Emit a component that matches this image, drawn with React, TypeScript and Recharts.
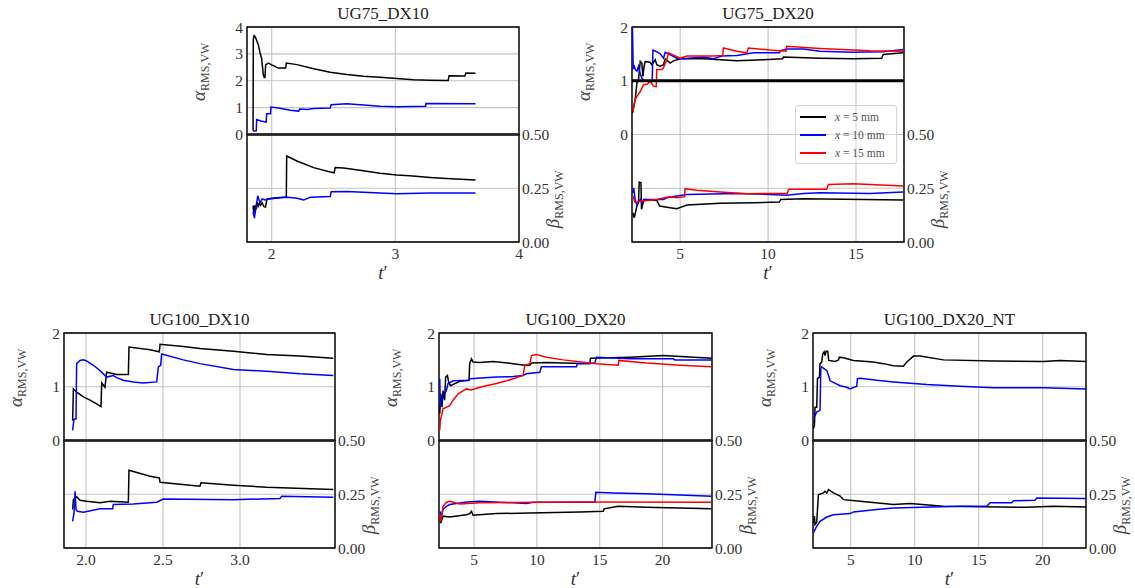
import React from "react";
import {
  CartesianGrid,
  Line,
  LineChart,
  ReferenceArea,
  ReferenceLine,
  XAxis,
  YAxis,
} from "recharts";

type Pair = [number, number];

const FONT = '"Liberation Serif", "Times New Roman", serif';
const COLORS = ["#000000", "#0000ff", "#ff0000"];
const POSITIONS_MM = [5, 10, 15];
const BETA_TICKS = [0, 0.25, 0.5];

// UG75_DX10
const ug75dx10AlphaX5: Pair[] = [[1.849,0.15],[1.851,3.55],[1.858,3.68],[1.868,3.62],[1.882,3.45],[1.892,3.33],[1.905,3.05],[1.918,2.84],[1.932,2.22],[1.94,2.12],[1.945,2.12],[1.951,2.59],[1.972,2.66],[2.0,2.59],[2.054,2.47],[2.113,2.47],[2.118,2.66],[2.204,2.6],[2.339,2.45],[2.473,2.32],[2.608,2.23],[2.742,2.17],[2.876,2.13],[3.011,2.08],[3.145,2.04],[3.28,2.02],[3.427,2.01],[3.435,2.19],[3.562,2.18],[3.57,2.29],[3.648,2.28]];
const ug75dx10AlphaX10: Pair[] = [[1.848,0.12],[1.875,0.14],[1.878,0.56],[1.913,0.5],[1.955,0.46],[1.959,0.77],[1.99,0.77],[1.994,1.02],[2.054,0.99],[2.15,0.9],[2.218,0.87],[2.226,0.95],[2.285,0.93],[2.339,0.97],[2.473,0.99],[2.481,1.11],[2.608,1.14],[2.742,1.1],[2.876,1.05],[3.011,1.03],[3.245,1.05],[3.247,1.15],[3.648,1.14]];
const ug75dx10BetaX5: Pair[] = [[1.849,0.169],[1.855,0.13],[1.862,0.17],[1.87,0.15],[1.882,0.185],[1.89,0.165],[1.9,0.18],[1.909,0.17],[1.922,0.182],[1.935,0.166],[1.949,0.162],[1.962,0.2],[2.016,0.205],[2.118,0.209],[2.121,0.4],[2.204,0.377],[2.339,0.346],[2.473,0.326],[2.505,0.322],[2.513,0.346],[2.581,0.344],[2.742,0.331],[2.876,0.32],[3.011,0.312],[3.118,0.308],[3.28,0.3],[3.414,0.295],[3.648,0.288]];
const ug75dx10BetaX10: Pair[] = [[1.849,0.138],[1.86,0.111],[1.872,0.16],[1.887,0.215],[1.9,0.19],[1.909,0.185],[1.922,0.2],[1.949,0.195],[1.976,0.2],[2.07,0.206],[2.124,0.208],[2.204,0.203],[2.258,0.195],[2.312,0.208],[2.473,0.212],[2.481,0.234],[2.608,0.235],[2.876,0.228],[3.011,0.225],[3.28,0.228],[3.648,0.228]];

// UG75_DX20
const ug75dx20AlphaX5: Pair[] = [[2.29,0.4],[2.44,0.65],[2.54,0.96],[2.63,1.02],[2.73,1.36],[2.82,1.33],[2.88,1.08],[2.95,1.27],[3.01,1.36],[3.3,1.34],[3.39,1.3],[3.58,1.39],[3.67,1.3],[3.86,1.27],[4.05,1.3],[4.15,1.41],[4.43,1.33],[4.62,1.37],[5.0,1.41],[6.33,1.41],[7.27,1.39],[8.22,1.37],[9.73,1.39],[10.83,1.41],[10.87,1.44],[12.95,1.42],[14.85,1.41],[16.46,1.42],[16.55,1.49],[17.69,1.52]];
const ug75dx20AlphaX10: Pair[] = [[2.28,2.05],[2.33,1.24],[2.39,1.27],[2.44,1.21],[2.54,1.18],[2.63,1.27],[2.73,1.13],[2.82,1.05],[2.92,1.0],[3.41,1.0],[3.45,1.57],[3.67,1.54],[3.86,1.5],[4.05,1.42],[4.15,1.53],[4.34,1.5],[4.81,1.42],[5.09,1.41],[6.33,1.44],[6.89,1.41],[7.37,1.46],[8.22,1.47],[9.17,1.52],[10.64,1.52],[10.72,1.56],[11.06,1.59],[12.01,1.59],[12.95,1.55],[14.85,1.53],[16.55,1.54],[17.69,1.58]];
const ug75dx20AlphaX15: Pair[] = [[2.31,0.43],[2.44,0.65],[2.54,0.71],[2.73,0.8],[2.92,0.93],[3.11,0.93],[3.3,0.99],[3.48,0.9],[3.64,0.89],[3.67,1.21],[3.96,1.21],[4.05,1.24],[4.24,1.39],[4.34,1.52],[4.53,1.49],[5.0,1.42],[5.38,1.46],[6.89,1.46],[7.42,1.47],[7.46,1.61],[8.22,1.55],[8.79,1.52],[8.88,1.61],[10.11,1.57],[11.02,1.55],[11.06,1.64],[12.95,1.6],[15.8,1.56],[17.69,1.55]];
const ug75dx20BetaX5: Pair[] = [[2.31,0.136],[2.39,0.113],[2.54,0.167],[2.63,0.183],[2.67,0.279],[2.77,0.276],[2.8,0.152],[2.92,0.19],[3.01,0.198],[3.67,0.193],[3.83,0.167],[4.43,0.159],[4.81,0.155],[5.38,0.172],[7.27,0.18],[9.17,0.183],[10.64,0.186],[10.72,0.198],[12.01,0.201],[17.69,0.195]];
const ug75dx20BetaX10: Pair[] = [[2.29,0.229],[2.35,0.252],[2.44,0.198],[2.54,0.175],[2.73,0.198],[2.82,0.18],[2.92,0.198],[4.05,0.198],[4.24,0.206],[4.81,0.214],[5.38,0.221],[8.22,0.226],[10.11,0.221],[11.06,0.217],[12.01,0.226],[12.95,0.229],[15.8,0.226],[17.69,0.232]];
const ug75dx20BetaX15: Pair[] = [[2.31,0.214],[2.44,0.183],[2.73,0.19],[3.67,0.198],[4.43,0.211],[4.81,0.206],[5.25,0.211],[5.28,0.248],[5.95,0.241],[7.27,0.232],[8.79,0.224],[10.11,0.226],[11.1,0.226],[11.16,0.245],[13.33,0.245],[13.43,0.268],[14.85,0.271],[17.69,0.26]];

// UG100_DX10
const ug100dx10AlphaX5: Pair[] = [[1.913,0.37],[1.918,0.96],[1.939,0.9],[1.983,0.81],[2.026,0.75],[2.069,0.68],[2.097,0.63],[2.102,1.07],[2.123,0.99],[2.134,1.27],[2.199,1.23],[2.275,1.23],[2.279,1.74],[2.416,1.69],[2.476,1.65],[2.481,1.79],[2.632,1.75],[2.74,1.71],[2.957,1.66],[3.173,1.6],[3.39,1.57],[3.606,1.53]];
const ug100dx10AlphaX10: Pair[] = [[1.913,0.19],[1.922,0.4],[1.935,0.4],[1.939,1.43],[1.961,1.49],[1.983,1.5],[2.004,1.48],[2.048,1.4],[2.091,1.3],[2.134,1.18],[2.177,1.21],[2.199,1.17],[2.242,1.12],[2.307,1.09],[2.372,1.07],[2.459,1.09],[2.47,1.37],[2.485,1.4],[2.491,1.61],[2.632,1.5],[2.74,1.43],[2.957,1.32],[3.173,1.29],[3.39,1.24],[3.606,1.21]];
const ug100dx10BetaX5: Pair[] = [[1.913,0.179],[1.918,0.225],[1.939,0.238],[1.961,0.222],[2.004,0.217],[2.091,0.21],[2.156,0.217],[2.275,0.213],[2.279,0.362],[2.416,0.334],[2.476,0.326],[2.481,0.306],[2.74,0.287],[2.747,0.303],[2.957,0.292],[3.173,0.283],[3.606,0.272]];
const ug100dx10BetaX10: Pair[] = [[1.913,0.124],[1.922,0.163],[1.929,0.264],[1.935,0.179],[1.944,0.171],[1.983,0.166],[2.091,0.182],[2.173,0.182],[2.177,0.202],[2.307,0.205],[2.459,0.213],[2.502,0.228],[2.957,0.225],[3.26,0.23],[3.271,0.241],[3.606,0.236]];

// UG100_DX20
const ug100dx20AlphaX5: Pair[] = [[2.27,0.5],[2.35,0.87],[2.45,0.62],[2.53,0.93],[2.66,0.75],[2.74,1.18],[2.88,1.21],[2.98,1.09],[3.12,1.02],[3.86,1.1],[4.6,1.12],[4.65,1.43],[4.79,1.52],[4.92,1.46],[5.45,1.45],[6.51,1.47],[8.11,1.43],[9.04,1.4],[9.43,1.4],[9.57,1.44],[10.76,1.45],[14.21,1.43],[14.26,1.53],[17.4,1.55],[20.05,1.58],[23.9,1.53]];
const ug100dx20AlphaX10: Pair[] = [[2.27,1.15],[2.32,0.62],[2.53,0.81],[2.8,0.93],[2.93,1.06],[3.33,1.11],[4.6,1.12],[4.65,1.15],[6.78,1.18],[8.11,1.19],[8.9,1.21],[9.17,1.24],[10.23,1.27],[10.36,1.37],[13.15,1.37],[13.2,1.43],[14.61,1.44],[14.74,1.55],[17.4,1.52],[20.85,1.52],[20.98,1.5],[23.9,1.5]];
const ug100dx20AlphaX15: Pair[] = [[2.27,0.19],[2.32,0.37],[2.53,0.59],[3.06,0.65],[3.33,0.75],[3.73,0.87],[4.39,0.96],[4.79,0.94],[5.45,0.99],[5.98,1.02],[6.78,1.06],[7.58,1.11],[8.9,1.21],[9.04,1.4],[9.43,1.43],[9.57,1.58],[9.96,1.6],[10.76,1.55],[12.09,1.5],[14.74,1.43],[16.47,1.4],[16.52,1.49],[18.72,1.44],[21.38,1.4],[23.9,1.37]];
const ug100dx20BetaX5: Pair[] = [[2.27,0.148],[2.35,0.116],[2.53,0.148],[3.06,0.144],[4.39,0.155],[4.65,0.16],[4.79,0.171],[4.92,0.152],[6.78,0.16],[9.43,0.163],[13.42,0.168],[15.27,0.171],[15.35,0.182],[16.47,0.194],[18.72,0.189],[23.9,0.182]];
const ug100dx20BetaX10: Pair[] = [[2.27,0.171],[2.4,0.148],[2.53,0.179],[2.8,0.194],[3.06,0.202],[4.39,0.214],[5.45,0.217],[8.11,0.21],[9.17,0.207],[9.7,0.213],[14.61,0.213],[14.69,0.259],[16.07,0.256],[18.72,0.252],[23.9,0.241]];
const ug100dx20BetaX15: Pair[] = [[2.27,0.148],[2.35,0.124],[2.53,0.194],[2.8,0.213],[3.06,0.217],[3.86,0.205],[5.45,0.21],[13.42,0.214],[23.9,0.213]];

// UG100_DX20_NT
const ug100ntAlphaX5: Pair[] = [[2.08,0.22],[2.16,0.28],[2.21,0.62],[2.34,0.62],[2.4,1.15],[2.55,1.18],[2.6,1.43],[2.73,1.46],[2.81,1.61],[2.92,1.65],[2.99,1.58],[3.07,1.66],[3.2,1.66],[3.28,1.49],[3.78,1.47],[4.04,1.5],[4.11,1.55],[4.43,1.54],[5.21,1.49],[6.77,1.46],[7.55,1.43],[8.33,1.39],[9.11,1.38],[9.38,1.46],[9.9,1.57],[10.42,1.57],[12.24,1.5],[16.15,1.48],[20.05,1.47],[21.35,1.49],[23.38,1.47]];
const ug100ntAlphaX10: Pair[] = [[2.14,0.43],[2.34,0.53],[2.6,0.56],[2.66,1.34],[2.73,1.37],[3.13,1.3],[3.26,1.21],[3.39,1.11],[4.17,1.02],[4.69,0.99],[4.95,0.96],[5.47,1.01],[5.52,1.15],[5.73,1.16],[7.03,1.12],[8.33,1.09],[10.94,1.04],[13.54,1.01],[16.15,0.98],[20.05,0.98],[23.38,0.96]];
const ug100ntBetaX5: Pair[] = [[2.08,0.116],[2.16,0.148],[2.21,0.109],[2.34,0.12],[2.47,0.248],[2.86,0.256],[2.99,0.264],[3.13,0.256],[3.26,0.272],[3.65,0.256],[4.17,0.241],[4.43,0.225],[5.73,0.217],[8.33,0.202],[9.64,0.207],[12.24,0.194],[18.75,0.189],[20.83,0.194],[23.38,0.191]];
const ug100ntBetaX10: Pair[] = [[2.08,0.07],[2.34,0.101],[2.6,0.124],[3.13,0.144],[3.65,0.155],[4.95,0.16],[5.21,0.168],[7.03,0.179],[8.33,0.186],[13.54,0.194],[15.63,0.194],[15.89,0.21],[17.58,0.21],[17.71,0.22],[19.4,0.222],[19.53,0.233],[23.38,0.23]];

const toPts = (a: Pair[]) => a.map(([t, v]) => ({ t, v }));

interface PanelCfg {
  title: string;
  left: number;
  top: number;
  w: number;
  h: number;
  xDomain: [number, number];
  xTicks: number[];
  xDigits: number;
  alphaMax: number;
  alpha: Pair[][];
  beta: Pair[][];
  split: boolean;
  legend?: boolean;
}

const panels: PanelCfg[] = [
  {
    title: "UG75_DX10", left: 247, top: 27, w: 272, h: 215,
    xDomain: [1.8, 4.0], xTicks: [2, 3, 4], xDigits: 0, alphaMax: 4,
    alpha: [ug75dx10AlphaX5, ug75dx10AlphaX10],
    beta: [ug75dx10BetaX5, ug75dx10BetaX10], split: true,
  },
  {
    title: "UG75_DX20", left: 632, top: 27, w: 272, h: 215,
    xDomain: [2.26, 17.73], xTicks: [5, 10, 15], xDigits: 0, alphaMax: 2,
    alpha: [ug75dx20AlphaX5, ug75dx20AlphaX10, ug75dx20AlphaX15],
    beta: [ug75dx20BetaX5, ug75dx20BetaX10, ug75dx20BetaX15],
    split: false, legend: true,
  },
  {
    title: "UG100_DX10", left: 64, top: 333, w: 271, h: 215,
    xDomain: [1.857, 3.617], xTicks: [2.0, 2.5, 3.0], xDigits: 1, alphaMax: 2,
    alpha: [ug100dx10AlphaX5, ug100dx10AlphaX10],
    beta: [ug100dx10BetaX5, ug100dx10BetaX10], split: true,
  },
  {
    title: "UG100_DX20", left: 439, top: 333, w: 273, h: 215,
    xDomain: [2.21, 23.93], xTicks: [5, 10, 15, 20], xDigits: 0, alphaMax: 2,
    alpha: [ug100dx20AlphaX5, ug100dx20AlphaX10, ug100dx20AlphaX15],
    beta: [ug100dx20BetaX5, ug100dx20BetaX10, ug100dx20BetaX15], split: true,
  },
  {
    title: "UG100_DX20_NT", left: 813, top: 333, w: 273, h: 215,
    xDomain: [2.05, 23.38], xTicks: [5, 10, 15, 20], xDigits: 0, alphaMax: 2,
    alpha: [ug100ntAlphaX5, ug100ntAlphaX10],
    beta: [ug100ntBetaX5, ug100ntBetaX10], split: true,
  },
];

const M = 55; // space left/right of plot area
const T = 25; // space above plot area

const tickStyle = { fill: "#333", fontSize: 15.5, fontFamily: FONT };

function AlphaLabel({ lx, ly }: any) {
  return (
    <text x={lx} y={ly} transform={`rotate(-90 ${lx} ${ly})`} textAnchor="middle" fill="#444" fontFamily={FONT}>
      <tspan fontSize={19} fontStyle="italic">α</tspan>
      <tspan fontSize={12} dy={4}>RMS,VW</tspan>
    </text>
  );
}

function BetaLabel({ lx, ly }: any) {
  return (
    <text x={lx} y={ly} transform={`rotate(-90 ${lx} ${ly})`} textAnchor="middle" fill="#444" fontFamily={FONT}>
      <tspan fontSize={19} fontStyle="italic">β</tspan>
      <tspan fontSize={12} dy={4}>RMS,VW</tspan>
    </text>
  );
}

function TLabel({ lx, ly }: any) {
  return (
    <text x={lx} y={ly} textAnchor="middle" fill="#333" fontFamily={FONT} fontSize={19}>
      <tspan fontStyle="italic">t</tspan>
      <tspan>′</tspan>
    </text>
  );
}

function Legend3() {
  return (
    <div
      style={{
        position: "absolute", left: 795 - (632 - M), top: 105 - (27 - T),
        width: 102, height: 59, boxSizing: "border-box",
        border: "1px solid #d4d4d4", borderRadius: 3,
        background: "rgba(255,255,255,0.35)", paddingTop: 2,
        fontFamily: FONT, fontSize: 11.5, color: "#555",
      }}
    >
      {POSITIONS_MM.map((mm, i) => (
        <div key={mm} style={{ display: "flex", alignItems: "center", height: 18 }}>
          <div style={{ marginLeft: 4, width: 26, borderTop: `2px solid ${COLORS[i]}` }} />
          <span style={{ marginLeft: 9, whiteSpace: "nowrap" }}>
            <i>x</i> = {mm} mm
          </span>
        </div>
      ))}
    </div>
  );
}

function Panel({ cfg }: { cfg: PanelCfg }) {
  const { w, h, xDomain, alphaMax } = cfg;
  const cw = w + 2 * M;
  const ch = h + T + 45;
  const alphaTicks = Array.from({ length: alphaMax + 1 }, (_, i) => i);
  return (
    <div style={{ position: "absolute", left: cfg.left - M, top: cfg.top - T, width: cw, height: ch }}>
      <LineChart width={cw} height={ch} margin={{ top: T, right: 5, bottom: 5, left: 5 }}>
        <CartesianGrid yAxisId="a" stroke="#c4c4c4" strokeWidth={1.1} />
        <CartesianGrid yAxisId="b" vertical={false} stroke="#c4c4c4" strokeWidth={1.1} />
        <XAxis
          type="number" dataKey="t" domain={xDomain} ticks={cfg.xTicks} allowDataOverflow
          interval={0} tickFormatter={(v: number) => v.toFixed(cfg.xDigits)}
          tickLine={false} axisLine={false} tickSize={0} tickMargin={6} height={40} tick={tickStyle}
          label={<TLabel lx={M + w / 2} ly={T + h + 37} />}
        />
        <YAxis
          yAxisId="a" type="number" domain={[-alphaMax, alphaMax]} ticks={alphaTicks} allowDataOverflow
          interval={0} width={50} tickLine={false} axisLine={false} tickSize={0} tickMargin={4} tick={tickStyle}
          label={<AlphaLabel lx={M - 42} ly={T + h / 4 - 9} />}
        />
        <YAxis
          yAxisId="b" orientation="right" type="number" domain={[0, 1]} ticks={BETA_TICKS} allowDataOverflow
          interval={0} width={50} tickLine={false} axisLine={false} tickSize={0} tickMargin={3} tick={tickStyle}
          tickFormatter={(v: number) => v.toFixed(2)}
          label={<BetaLabel lx={M + w + 40} ly={T + (3 * h) / 4 + 11} />}
        />
        {cfg.beta.map((s, i) => (
          <Line key={`b${i}`} yAxisId="b" data={toPts(s)} dataKey="v" type="linear" stroke={COLORS[i]}
            strokeWidth={1.5} dot={false} activeDot={false} isAnimationActive={false} />
        ))}
        {cfg.alpha.map((s, i) => (
          <Line key={`a${i}`} yAxisId="a" data={toPts(s)} dataKey="v" type="linear" stroke={COLORS[i]}
            strokeWidth={1.5} dot={false} activeDot={false} isAnimationActive={false} />
        ))}
        {cfg.split ? (
          <ReferenceLine yAxisId="a" y={0} stroke="#222" strokeWidth={2.6} />
        ) : (
          <ReferenceLine yAxisId="a" y={1} stroke="#000" strokeWidth={3} />
        )}
        <ReferenceArea yAxisId="a" x1={xDomain[0]} x2={xDomain[1]} y1={cfg.split ? 0 : -alphaMax} y2={alphaMax}
          fill="none" stroke="#000" strokeWidth={1.4} />
        {cfg.split && (
          <ReferenceArea yAxisId="b" x1={xDomain[0]} x2={xDomain[1]} y1={0} y2={0.5}
            fill="none" stroke="#000" strokeWidth={1.4} />
        )}
      </LineChart>
      <div
        style={{
          position: "absolute", left: 0, top: T - 23, width: cw, lineHeight: "20px",
          textAlign: "center", fontFamily: FONT, fontSize: 17, color: "#222",
        }}
      >
        {cfg.title}
      </div>
      {cfg.legend && <Legend3 />}
    </div>
  );
}

export default function App() {
  return (
    <div style={{ position: "absolute", left: 0, top: 0, width: 1135, height: 588, background: "#fff" }}>
      {panels.map((p) => (
        <Panel key={p.title} cfg={p} />
      ))}
    </div>
  );
}
